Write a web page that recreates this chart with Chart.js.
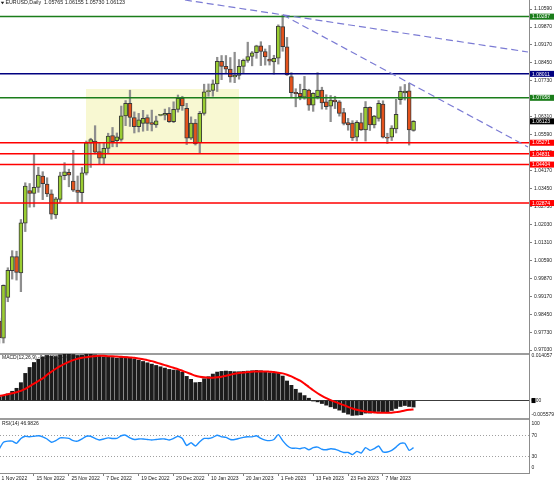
<!DOCTYPE html>
<html><head><meta charset="utf-8">
<script src="https://cdn.jsdelivr.net/npm/chart.js@4"></script>
<style>html,body{margin:0;padding:0;background:#fff;}canvas{display:block;}</style>
</head><body>
<canvas id="c" width="554" height="482"></canvas>
<script>
// ---- data ----
const opens=[0.9818,0.9750,0.9912,1.0018,1.0074,1.0010,1.0207,1.0337,1.0326,1.0350,
1.0395,1.0363,1.0324,1.0240,1.0302,1.0396,1.0410,1.0375,1.0339,1.0329,
1.0406,1.0525,1.0534,1.0492,1.0466,1.0505,1.0556,1.0535,1.0540,1.0634,
1.0684,1.0627,1.0591,1.0604,1.0627,1.0607,1.0598,1.0636,1.0637,1.0644,
1.0611,1.0660,1.0704,1.0664,1.0545,1.0605,1.0527,1.0644,1.0730,1.0735,
1.0761,1.0851,1.0831,1.0820,1.0789,1.0795,1.0831,1.0855,1.0870,1.0885,
1.0913,1.0890,1.0860,1.0849,1.0863,1.0989,1.0909,1.0790,1.0728,1.0724,
1.0708,1.0737,1.0677,1.0710,1.0737,1.0690,1.0673,1.0697,1.0690,1.0647,
1.0607,1.0605,1.0549,1.0607,1.0578,1.0668,1.0598,1.0624,1.0681,1.0549,
1.0549,1.0582,1.0698,1.0725,1.0734,1.05765];
const highs=[0.9830,0.9962,1.0030,1.0098,1.0096,1.0222,1.0368,1.0365,1.0481,1.0430,
1.0412,1.0388,1.0340,1.0310,1.0410,1.0448,1.0422,1.0497,1.0395,1.0429,
1.0534,1.0545,1.0595,1.0525,1.0528,1.0565,1.0588,1.0566,1.0673,1.0695,
1.0736,1.0650,1.0644,1.0656,1.0638,1.0657,1.0633,1.0640,1.0661,1.0667,
1.0690,1.0717,1.0712,1.0684,1.0630,1.0620,1.0652,1.0760,1.0761,1.0777,
1.0867,1.0874,1.0874,1.0866,1.0887,1.0858,1.0860,1.0927,1.0890,1.0915,
1.0929,1.0900,1.0914,1.0875,1.0996,1.1035,1.0946,1.0806,1.0742,1.0760,
1.0791,1.0740,1.0726,1.0806,1.0748,1.0718,1.0715,1.0712,1.0695,1.0664,
1.0624,1.0615,1.0615,1.0645,1.0691,1.0670,1.0636,1.0695,1.0694,1.0565,
1.0595,1.0700,1.0750,1.0759,1.0764,1.06155];
const lows=[0.9730,0.9731,0.9895,0.9985,0.9981,0.9935,1.0174,1.0271,1.0272,1.0330,
1.0301,1.0313,1.0223,1.0226,1.0290,1.0380,1.0352,1.0333,1.0290,1.0290,
1.0399,1.0429,1.0483,1.0443,1.0443,1.0484,1.0511,1.0511,1.0533,1.0595,
1.0592,1.0566,1.0570,1.0573,1.0576,1.0574,1.0588,1.0634,1.0618,1.0608,
1.0607,1.0649,1.0656,1.0520,1.0540,1.0518,1.0484,1.0637,1.0712,1.0712,
1.0731,1.0778,1.0805,1.0768,1.0766,1.0780,1.0803,1.0847,1.0833,1.0863,
1.0834,1.0836,1.0836,1.0800,1.0840,1.0891,1.0795,1.0706,1.0670,1.0698,
1.0700,1.0656,1.0652,1.0701,1.0661,1.0660,1.0611,1.0663,1.0633,1.0598,
1.0577,1.0536,1.0534,1.0576,1.0534,1.0576,1.0586,1.0613,1.0546,1.0524,
1.0536,1.0566,1.0680,1.0697,1.0518,1.05730];
const closes=[0.9752,0.9960,1.0020,1.0074,1.0012,1.0209,1.0355,1.0326,1.0350,1.0399,
1.0364,1.0324,1.0243,1.0304,1.0396,1.0412,1.0398,1.0339,1.0330,1.0408,
1.0527,1.0540,1.0490,1.0466,1.0505,1.0554,1.0531,1.0551,1.0634,1.0684,
1.0628,1.0591,1.0618,1.0624,1.0604,1.0600,1.0614,1.0638,1.0644,1.0611,
1.0660,1.0704,1.0674,1.0545,1.0605,1.0522,1.0644,1.0730,1.0735,1.0761,
1.0851,1.0831,1.0820,1.0789,1.0795,1.0831,1.0855,1.0870,1.0885,1.0913,
1.0890,1.0868,1.0852,1.0863,1.0991,1.0909,1.0797,1.0726,1.0722,1.0710,
1.0740,1.0677,1.0724,1.0737,1.0686,1.0671,1.0697,1.0690,1.0644,1.0604,
1.0598,1.0546,1.0608,1.0578,1.0668,1.0598,1.0633,1.0684,1.0549,1.0545,
1.0585,1.0640,1.0732,1.0733,1.0578,1.06123];
const macdMain=[0.0011,0.0014,0.0020,0.0028,0.0037,0.0054,0.0082,0.0100,0.0115,0.0125,
0.0132,0.0136,0.0134,0.0133,0.0138,0.014057,0.0140,0.0139,0.0136,0.0137,
0.0140,0.0140,0.0138,0.0134,0.0132,0.0132,0.0130,0.0128,0.0130,0.0132,
0.0130,0.0126,0.0122,0.0118,0.0114,0.0110,0.0106,0.0102,0.0098,0.0094,
0.0092,0.0091,0.0086,0.0073,0.0064,0.0054,0.0055,0.0066,0.0072,0.0080,
0.0086,0.0088,0.0089,0.0088,0.0087,0.0087,0.0088,0.0089,0.0090,0.0091,
0.0090,0.0087,0.0084,0.0082,0.0084,0.0074,0.0059,0.0046,0.0034,0.0023,
0.0015,0.0007,-0.0001,-0.0004,-0.0009,-0.0014,-0.0019,-0.0024,-0.0029,-0.0036,
-0.0041,-0.0045,-0.0044,-0.0043,-0.0038,-0.0038,-0.0036,-0.0033,-0.0036,-0.0037,
-0.0030,-0.0024,-0.0018,-0.0015,-0.0018,-0.001972];
const macdSignal=[0.0014,0.0016,0.0019,0.0022,0.0025,0.0029,0.0035,0.0043,0.0051,0.0059,
0.0067,0.0078,0.0087,0.0096,0.0104,0.0111,0.0117,0.0122,0.0126,0.0129,
0.0131,0.0133,0.0134,0.0135,0.0135,0.0134,0.0134,0.0133,0.0132,0.0131,
0.0130,0.0129,0.0127,0.0125,0.0122,0.0119,0.0115,0.0111,0.0107,0.0103,
0.0099,0.0095,0.0090,0.0085,0.0080,0.0075,0.0072,0.0070,0.0069,0.0069,
0.0070,0.0072,0.0075,0.0078,0.0081,0.0083,0.0085,0.0086,0.0087,0.0088,
0.0088,0.0088,0.0087,0.0086,0.0084,0.0082,0.0078,0.0073,0.0066,0.0060,
0.0051,0.0041,0.0031,0.0022,0.0014,0.0007,0.0001,-0.0004,-0.0009,-0.0014,
-0.0019,-0.0024,-0.0028,-0.0031,-0.0033,-0.0035,-0.0036,-0.0037,-0.0037,-0.0037,
-0.0037,-0.0035,-0.0033,-0.0030,-0.0028,-0.0027];
const rsiValues=[44,57,59,59,55,64,68,67,68,69,
67,63,57,60,65,65,64,60,59,63,
68,68,64,61,63,65,64,64,69,70,
65,62,63,63,62,61,62,63,63,61,
64,68,64,51,56,50,58,64,64,66,
70,67,66,62,62,64,66,67,67,69,
64,61,60,62,71,60,51,46,46,45,
47,43,47,48,44,43,45,44,41,38,
38,34,40,37,47,42,45,50,39,39,
42,48,55,55,42,46.9826];
const xTickIndex=[0,8,16,24,32,40,48,56,64,72,80,88];
const xTickLabels=['1 Nov 2022','15 Nov 2022','25 Nov 2022','7 Dec 2022','19 Dec 2022','29 Dec 2022','10 Jan 2023','20 Jan 2023','1 Feb 2023','13 Feb 2023','23 Feb 2023','7 Mar 2023'];
const priceTicks=[1.10590,1.09870,1.09170,1.08450,1.07730,1.07010,1.06310,1.05590,1.04870,1.04170,1.03450,1.02730,1.02030,1.01310,1.00590,0.99870,0.99170,0.98450,0.97730,0.97030];
const macdTickValues=[0.014057,0.013453,0,-0.004371,-0.005579];
const macdTickLabels=['','0.014057','0.00','-0.005579',''];
const rsiTickValues=[100,90.7,70,30,9.3,0];
const rsiTickLabels=['','100','70','30','0',''];
const levelValues=[1.10287,1.08011,1.07058,1.05271,1.04831,1.04404,1.02874];
const levelColors=['#1b7d1b','#000080','#1b7d1b','#ff0000','#ff0000','#ff0000','#ff0000'];
const lastPrice=1.06123;
const trendA=[[42.6,1.10948],[121.24,1.08880]];
const trendB=[[65.07,1.10352],[121.24,1.05103]];
const zoneX=[19.92,54.99];
const zoneY=[1.07409,1.04466];
const titleText='EURUSD,Daily  1.05765 1.06155 1.05730 1.06123';
const macdText='MACD(12,26,9) -0.001972 -0.002963';
const rsiText='RSI(14) 46.9826';
const priceRange=[0.96871,1.10948];
const macdRange=[-0.005579,0.014057];
const rsiRange=[0,100];
const xRange=[0.2063,121.47];

// ---- chart ----
Chart.defaults.font.family='"Liberation Sans", Arial, sans-serif';
Chart.defaults.font.size=5;
const FONT='"Liberation Sans", Arial, sans-serif';
const idx=opens.map((_,i)=>i);
const isUp=i=>closes[i]>=opens[i];
const bull='#9acd32', bear='#e4521c';

const datasets=[
 {type:'line',label:'zone',order:20,yAxisID:'y',data:[{x:zoneX[0],y:zoneY[0]},{x:zoneX[1],y:zoneY[0]}],
  fill:{value:zoneY[1]},backgroundColor:'#f8f8d2',borderWidth:0,pointRadius:0},
 {type:'bar',label:'wicks',order:8,yAxisID:'y',grouped:false,barThickness:1.6,borderWidth:0,
  backgroundColor:'#8e8e8e',data:idx.map(i=>({x:i,y:[lows[i],highs[i]]}))},
 {type:'bar',label:'bodies',order:7,yAxisID:'y',grouped:false,barThickness:4,borderWidth:1,borderSkipped:false,minBarLength:1,
  borderColor:'#3a3a3a',backgroundColor:idx.map(i=>isUp(i)?bull:bear),data:idx.map(i=>({x:i,y:[opens[i],closes[i]]}))},
];
levelValues.forEach((v,k)=>datasets.push({type:'line',order:4,yAxisID:'y',data:[{x:xRange[0],y:v},{x:xRange[1],y:v}],
  borderColor:levelColors[k],borderWidth:1.5,pointRadius:0,fill:false}));
[trendA,trendB].forEach(t=>datasets.push({type:'line',order:3,yAxisID:'y',data:t.map(p=>({x:p[0],y:p[1]})),
  borderColor:'#7b7bd4',borderWidth:1.2,borderDash:[7,4],pointRadius:0,fill:false}));
datasets.push({type:'bar',label:'macd',order:6,yAxisID:'yM',grouped:false,barThickness:3.3,borderWidth:0,
  backgroundColor:'#1c1c1c',data:idx.map(i=>({x:i,y:macdMain[i]}))});
datasets.push({type:'line',label:'signal',order:2,yAxisID:'yM',data:idx.map(i=>({x:i,y:macdSignal[i]})),
  borderColor:'#ff0000',borderWidth:2,pointRadius:0,fill:false,tension:0.3});
datasets.push({type:'line',label:'rsi',order:2,yAxisID:'yR',data:idx.map(i=>({x:i,y:rsiValues[i]})),
  borderColor:'#1e8fff',borderWidth:1.4,pointRadius:0,fill:false,tension:0.2});

const textPlugin={id:'texts',beforeDatasetsDraw(chart){
  const ctx=chart.ctx;ctx.save();
  ctx.fillStyle='#1a1a1a';
  ctx.beginPath();ctx.moveTo(0.8,1.8);ctx.lineTo(4.2,1.8);ctx.lineTo(2.5,4.3);ctx.closePath();ctx.fill();
  ctx.font='5.3px '+FONT;ctx.textBaseline='middle';ctx.textAlign='left';
  ctx.fillText(titleText,5.5,3);
  ctx.font='5px '+FONT;
  ctx.fillText(macdText,2,chart.scales.yM.top+3.5);
  ctx.fillText(rsiText,2,chart.scales.yR.top+4.5);
  ctx.restore();
}};
const tagPlugin={id:'tags',afterDraw(chart){
  const ctx=chart.ctx,ys=chart.scales.y,left=chart.chartArea.right+1,w=chart.width-left;
  ctx.save();ctx.font='5px '+FONT;ctx.textBaseline='middle';ctx.textAlign='left';
  const tags=levelValues.map((v,k)=>[v,levelColors[k]]).concat([[lastPrice,'#000000']]);
  for(const [v,c] of tags){const py=ys.getPixelForValue(v);
    ctx.fillStyle=c;ctx.fillRect(left,py-3,w,6);ctx.fillStyle='#ffffff';ctx.fillText(v.toFixed(5),left+2,py+0.3);}
  const pz=chart.scales.yM.getPixelForValue(0);
  ctx.fillStyle='#000';ctx.fillRect(left+1.5,pz-2.5,4,5);
  ctx.restore();
}};

const fitY=s=>{s.width=25;s.paddingTop=0;s.paddingBottom=0;};
const transparent='rgba(0,0,0,0)';
new Chart(document.getElementById('c'),{
 type:'line',
 data:{datasets},
 options:{responsive:false,animation:false,devicePixelRatio:1,
  layout:{padding:0},
  plugins:{legend:{display:false},tooltip:{enabled:false}},
  scales:{
   x:{type:'linear',position:'bottom',min:xRange[0],max:xRange[1],offset:false,
      afterBuildTicks:s=>{s.ticks=xTickIndex.map(v=>({value:v}));},
      grid:{drawOnChartArea:false,drawTicks:true,tickLength:3,color:'#808080',offset:false},
      border:{color:'#8c8c8c',width:1},
      ticks:{autoSkip:false,maxRotation:0,minRotation:0,align:'start',labelOffset:2.5,padding:0,color:'#1a1a1a',
        font:{size:5},callback:(v,i)=>xTickLabels[i]},
      afterFit:s=>{s.height=9;s.paddingLeft=0;s.paddingRight=0;}},
   y:{type:'linear',position:'right',stack:'panes',stackWeight:354,min:priceRange[0],max:priceRange[1],
      afterBuildTicks:s=>{s.ticks=priceTicks.map(v=>({value:v}));},
      grid:{drawOnChartArea:false,drawTicks:true,tickLength:3,color:'#808080'},
      border:{color:'#8c8c8c',width:1},
      ticks:{autoSkip:false,padding:2,color:'#1a1a1a',font:{size:5},callback:v=>Number(v).toFixed(5)},
      afterFit:fitY},
   yM:{type:'linear',position:'right',stack:'panes',stackWeight:65,min:macdRange[0],max:macdRange[1],
      afterBuildTicks:s=>{s.ticks=macdTickValues.map(v=>({value:v}));},
      grid:{drawOnChartArea:true,drawTicks:true,tickLength:1,tickColor:transparent,
        color:c=>(c.index===0||c.index===4)?'#9c9c9c':(c.index===2?'#3c3c3c':transparent),
        lineWidth:c=>(c.index===0||c.index===4)?2:1},
      border:{color:'#8c8c8c',width:1},
      ticks:{autoSkip:false,padding:1.5,color:'#1a1a1a',font:{size:5},callback:(v,i)=>macdTickLabels[i]},
      afterFit:fitY},
   yR:{type:'linear',position:'right',stack:'panes',stackWeight:54,min:rsiRange[0],max:rsiRange[1],
      afterBuildTicks:s=>{s.ticks=rsiTickValues.map(v=>({value:v}));},
      grid:{drawOnChartArea:true,drawTicks:true,tickLength:1,tickColor:transparent,
        color:c=>(c.index===2||c.index===3)?'#a0a0a0':transparent,lineWidth:1},
      border:{color:'#8c8c8c',width:1,dash:[1,2]},
      ticks:{autoSkip:false,padding:1.5,color:'#1a1a1a',font:{size:5},callback:(v,i)=>rsiTickLabels[i]},
      afterFit:fitY}
  }},
 plugins:[textPlugin,tagPlugin]
});
</script>
</body></html>
